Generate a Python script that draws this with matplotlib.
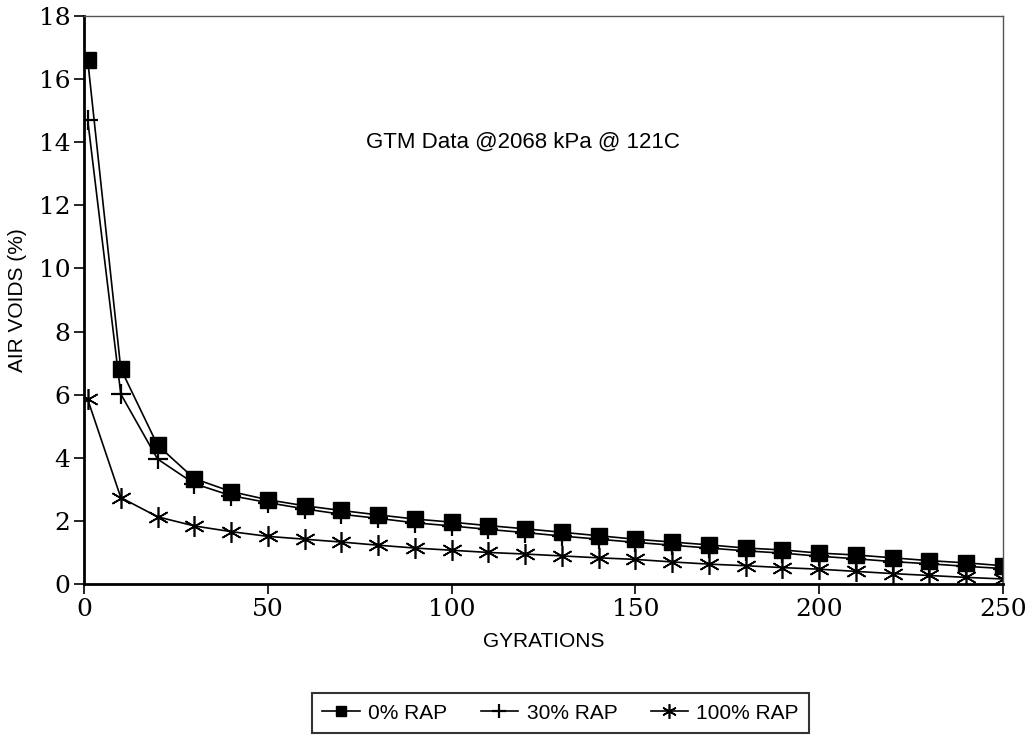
import numpy as np
import matplotlib.pyplot as plt

# gyration counts
gyr = [1, 10, 20, 30, 40, 50, 60, 70, 80, 90, 100, 110, 120, 130, 140, 150,
       160, 170, 180, 190, 200, 210, 220, 230, 240, 250]

# air voids (%)
rap0 = [16.6, 6.82, 4.40, 3.34, 2.93, 2.67, 2.48, 2.33, 2.19, 2.06, 1.96, 1.85,
        1.75, 1.64, 1.53, 1.42, 1.33, 1.24, 1.14, 1.08, 0.98, 0.92, 0.83,
        0.74, 0.67, 0.58]
rap30 = [14.7, 6.02, 3.96, 3.18, 2.80, 2.58, 2.38, 2.21, 2.08, 1.94, 1.84,
         1.73, 1.63, 1.52, 1.42, 1.32, 1.23, 1.14, 1.05, 0.98, 0.88, 0.80,
         0.71, 0.64, 0.56, 0.49]
rap100 = [5.85, 2.74, 2.13, 1.84, 1.66, 1.51, 1.42, 1.33, 1.23, 1.14, 1.07,
          1.00, 0.95, 0.89, 0.83, 0.78, 0.70, 0.63, 0.58, 0.52, 0.47, 0.40,
          0.33, 0.27, 0.21, 0.16]

labels = ['0% RAP', '30% RAP', '100% RAP']

fig = plt.figure(figsize=(10.26, 7.36), dpi=100)
ax = fig.add_axes([0.0819, 0.2065, 0.8957, 0.7718])

ax.plot(gyr, rap0, color='black', lw=1.2, marker='s', ms=11, label=labels[0])
ax.plot(gyr, rap30, color='black', lw=1.2, marker='+', ms=15, mew=1.6, label=labels[1])
ax.plot(gyr, rap100, color='black', lw=1.2, marker=(6, 2, 0), ms=15, mew=1.2,
        label=labels[2])

ax.set_xlim(0, 250)
ax.set_ylim(0, 18)
ax.set_xticks([0, 50, 100, 150, 200, 250])
ax.set_yticks(np.arange(0, 19, 2))

serif = ['DejaVu Serif']
sans = ['Liberation Sans', 'DejaVu Sans']
for t in ax.get_xticklabels() + ax.get_yticklabels():
    t.set_family(serif)
    t.set_fontsize(18)
ax.tick_params(direction='out', length=7, width=1.2, color='black', pad=3)

for s in ['left', 'bottom']:
    ax.spines[s].set_linewidth(2.0)
for s in ['top', 'right']:
    ax.spines[s].set_linewidth(1.0)
    ax.spines[s].set_color('#555555')

ax.set_xlabel('GYRATIONS', family=sans, fontsize=15, labelpad=8)
ax.set_ylabel('AIR VOIDS (%)', family=sans, fontsize=15, labelpad=8)

ax.text(119.5, 14.0, 'GTM Data @2068 kPa @ 121C', family=sans, fontsize=16,
        ha='center', va='center')

leg = fig.legend(loc='center', bbox_to_anchor=(0.5465, 0.031), ncol=3,
                 prop={'family': sans, 'size': 15}, frameon=True, fancybox=False,
                 edgecolor='black', handlelength=1.8, columnspacing=1.6,
                 borderpad=0.5, handletextpad=0.4, markerscale=0.7)
leg.get_frame().set_linewidth(1.5)

fig.savefig('out.png', dpi=100)
